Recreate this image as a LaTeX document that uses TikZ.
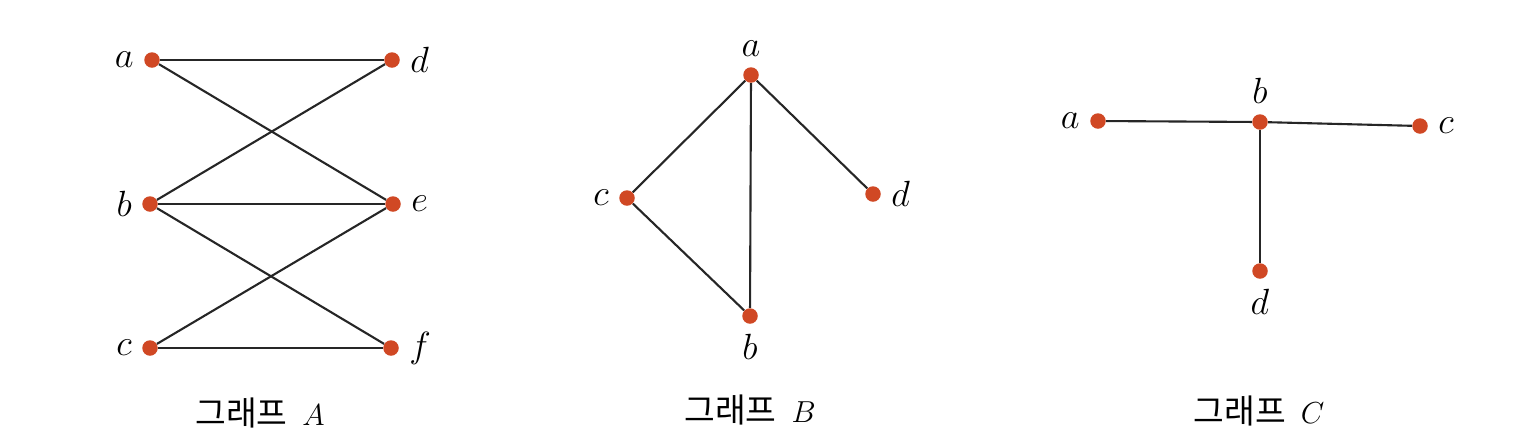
\documentclass[tikz,border=0pt]{standalone}
\usepackage{fontspec}
\newfontfamily\korfont{Noto Sans CJK KR}
\definecolor{vtxred}{RGB}{208,72,36}
\begin{document}
\begin{tikzpicture}[x=0.2mm, y=-0.2mm,
	every node/.style={font=\fontsize{19}{22}\selectfont},
	vtx/.style={circle, fill=vtxred, inner sep=0pt, minimum size=3.1mm},
	edge/.style={line width=1.2pt, black!85},
	every label/.style={font=\fontsize{21}{24}\selectfont},
	label distance=0.8mm]
	\useasboundingbox (0,0) rectangle (1525,446);
	% graph A
	\node[vtx, label=left:$a$]  (Aa) at (152,60) {};
	\node[vtx, label=right:$d$] (Ad) at (392,60) {};
	\node[vtx, label=left:$b$]  (Ab) at (150,204) {};
	\node[vtx, label=right:$e$] (Ae) at (393,204) {};
	\node[vtx, label=left:$c$]  (Ac) at (150,348) {};
	\node[vtx, label=right:$f$] (Af) at (391,348) {};
	\foreach \u/\v in {Aa/Ad, Aa/Ae, Ab/Ad, Ab/Ae, Ab/Af, Ac/Ae, Ac/Af}
		\draw[edge] (\u) -- (\v);
	\node (capA) at (260,413) {\korfont 그래프~~$A$};
	% graph B
	\node[vtx, label=above:$a$] (Ba) at (751,75) {};
	\node[vtx, label=left:$c$]  (Bc) at (627,198) {};
	\node[vtx, label=right:$d$] (Bd) at (873,194) {};
	\node[vtx, label=below:$b$] (Bb) at (750,316) {};
	\foreach \u/\v in {Ba/Bc, Ba/Bb, Ba/Bd, Bc/Bb}
		\draw[edge] (\u) -- (\v);
	\node (capB) at (750,410) {\korfont 그래프~~$B$};
	% graph C
	\node[vtx, label=left:$a$]  (Ca) at (1098,121) {};
	\node[vtx, label=above:$b$] (Cb) at (1260,122) {};
	\node[vtx, label=right:$c$] (Cc) at (1420,126) {};
	\node[vtx, label=below:$d$] (Cd) at (1260,271) {};
	\foreach \u/\v in {Ca/Cb, Cb/Cc, Cb/Cd}
		\draw[edge] (\u) -- (\v);
	\node (capC) at (1259,411) {\korfont 그래프~~$C$};
\end{tikzpicture}
\end{document}
